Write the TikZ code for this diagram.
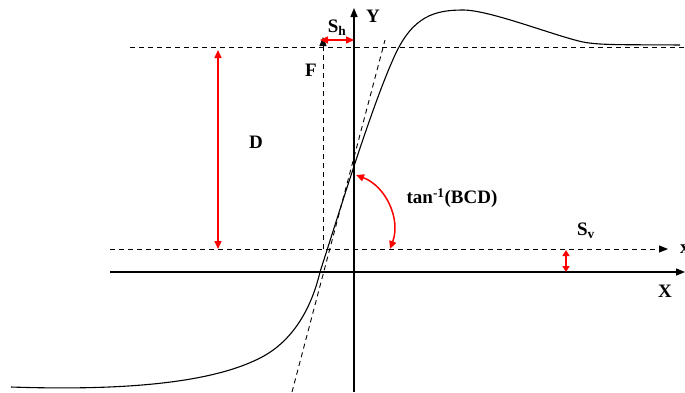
\documentclass[tikz,border=0pt]{standalone}
\usepackage{fontspec}
\setmainfont{Liberation Serif}
\usetikzlibrary{arrows.meta}
\begin{document}
\begin{tikzpicture}[x=1pt,y=-1pt,
  lbl/.style={font=\fontsize{19}{21}\selectfont\bfseries, inner sep=0pt},
  axis/.style={line width=1.4pt, -{Triangle[length=9pt,width=7pt]}},
  dash line/.style={line width=0.9pt, dash pattern=on 5pt off 4pt},
  redarr/.style={red, line width=1.5pt, {Triangle[length=8pt,width=7pt]}-{Triangle[length=8pt,width=7pt]}},
  curve/.style={line width=1.1pt}]
\useasboundingbox (0,0) rectangle (685,392);
% coordinates
\coordinate (xs) at (110,272);
\coordinate (xe) at (685,272);
\coordinate (ys) at (354,392);
\coordinate (ye) at (354,8);
\coordinate (ls) at (110,249);
\coordinate (le) at (668,249);
\coordinate (us) at (130,47);
\coordinate (ue) at (685,47);
\coordinate (fs) at (323,249);
\coordinate (fe) at (323,37);
\coordinate (ts) at (292,392);
\coordinate (te) at (385,40);
\coordinate (da) at (218,50);
\coordinate (db) at (218,249);
\coordinate (sha) at (320,40);
\coordinate (shb) at (354,40);
\coordinate (sva) at (566,250);
\coordinate (svb) at (566,272);
\coordinate (aa) at (356,175);
\coordinate (ab) at (390,249);
% axes
\draw[axis] (xs) -- (xe);
\draw[axis] (ys) -- (ye);
% dashed lines
\draw[dash line] (us) -- (ue);
\draw[dash line, -{Triangle[length=9pt,width=7pt]}] (ls) -- (le);
\draw[dash line, -{Triangle[length=9pt,width=7pt]}] (fs) -- (fe);
\draw[dash line] (ts) -- (te);
% curve
\draw[curve] (11,387) .. controls (130,391) and (215,382) .. (262,357)
  .. controls (292,341) and (311,310) .. (320,272)
  .. controls (340,210) and (372,105) .. (395,55)
  .. controls (413,16) and (435,10) .. (463,10)
  .. controls (490,10) and (555,36) .. (583,42)
  .. controls (600,45.5) and (630,44.5) .. (680,45);
% red arrows
\draw[redarr] (da) -- (db);
\draw[redarr] (sha) -- (shb);
\draw[red, line width=1.5pt, {Triangle[length=6pt,width=7pt]}-{Triangle[length=6pt,width=7pt]}] (sva) -- (svb);
\draw[redarr] (aa) to[bend left=45] (ab);
% labels
\node[lbl] (ylab) at (373,16) {Y};
\node[lbl] (shlab) at (337,28) {S\textsubscript{h}};
\node[lbl] (flab) at (311,70) {F};
\node[lbl] (dlab) at (256,142) {D};
\node[lbl] (tanlab) at (452,198) {tan\textsuperscript{-1}(BCD)};
\node[lbl] (svlab) at (586,231) {S\textsubscript{v}};
\node[lbl] (xlab) at (665,291) {X};
\node[lbl, anchor=west] (xsmall) at (680,249) {x};
\end{tikzpicture}
\end{document}
